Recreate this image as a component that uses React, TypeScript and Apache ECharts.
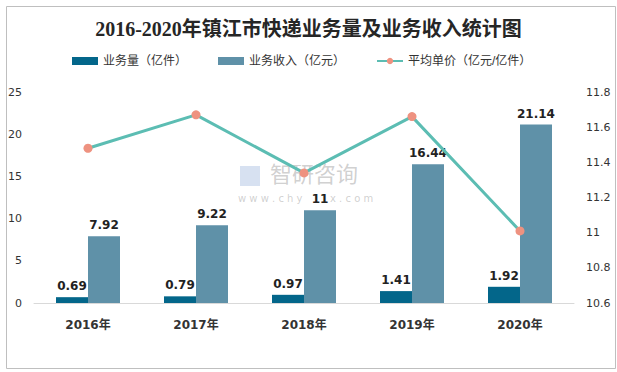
import React, { useEffect, useRef } from "react";
import * as echarts from "echarts";

const categories = ["2016年", "2017年", "2018年", "2019年", "2020年"];
const volume = [0.69, 0.79, 0.97, 1.41, 1.92];
const revenue = [7.92, 9.22, 11, 16.44, 21.14];
const unitPrice = [11.48, 11.67, 11.34, 11.66, 11.01];

const leftTicks = { min: 0, max: 25, interval: 5 };
const rightTicks = { min: 10.6, max: 11.8, interval: 0.2 };

const FONT = "'DejaVu Sans', 'Noto Sans CJK SC', sans-serif";
const CJK = "'Liberation Sans', 'Noto Sans CJK SC', sans-serif";
const WM = "rgba(150,150,150,0.45)";

export default function App() {
  const ref = useRef<HTMLDivElement>(null);
  useEffect(() => {
    if (!ref.current) return;
    const chart = echarts.init(ref.current, null, { renderer: "svg" });
    chart.setOption({
      animation: false,
      backgroundColor: "#ffffff",
      title: {
        text: "2016-2020年镇江市快递业务量及业务收入统计图",
        left: "center",
        top: 14,
        textStyle: {
          fontFamily: "'Liberation Serif', 'Noto Sans CJK SC', serif",
          fontSize: 20,
          fontWeight: "bold",
          color: "#262626",
        },
      },
      legend: {
        top: 50,
        left: 67,
        itemGap: 31,
        itemWidth: 26,
        itemHeight: 8,
        textStyle: { fontFamily: CJK, fontSize: 12, color: "#333333" },
        data: [
          { name: "业务量（亿件）", icon: "rect" },
          { name: "业务收入（亿元）", icon: "rect" },
          { name: "平均单价（亿元/亿件）" },
        ],
      },
      graphic: [
        {
          type: "rect",
          left: 4,
          top: 4,
          shape: { width: 609, height: 362 },
          style: { fill: "none", stroke: "#bfbfbf", lineWidth: 1 },
          silent: true,
        },
        {
          type: "text",
          left: 270,
          top: 161,
          style: {
            text: "智研咨询",
            fontFamily: "'Noto Sans CJK SC', sans-serif",
            fontSize: 22,
            fill: WM,
          },
          silent: true,
          z: 0,
        },
        {
          type: "text",
          left: 238,
          top: 193,
          style: { text: "w w w . c h y", fontFamily: FONT, fontSize: 10, fill: WM },
          silent: true,
          z: 0,
        },
        {
          type: "text",
          left: 330,
          top: 193,
          style: { text: "x . c o m", fontFamily: FONT, fontSize: 10, fill: WM },
          silent: true,
          z: 0,
        },
        {
          type: "rect",
          left: 240,
          top: 166,
          shape: { width: 20, height: 20 },
          style: { fill: "rgba(140,170,215,0.35)" },
          silent: true,
          z: 0,
        },
      ],
      grid: { left: 34, right: 43, top: 92, bottom: 69, containLabel: false },
      xAxis: {
        type: "category",
        data: categories,
        axisLine: { lineStyle: { color: "#d9d9d9" } },
        axisTick: { show: false },
        axisLabel: {
          fontFamily: FONT,
          fontSize: 12,
          fontWeight: "bold",
          color: "#333333",
          margin: 16,
        },
      },
      yAxis: [
        {
          type: "value",
          min: leftTicks.min,
          max: leftTicks.max,
          interval: leftTicks.interval,
          splitLine: { show: false },
          axisLine: { show: false },
          axisTick: { show: false },
          axisLabel: { fontFamily: FONT, fontSize: 11, color: "#333333", margin: 12 },
        },
        {
          type: "value",
          min: rightTicks.min,
          max: rightTicks.max,
          interval: rightTicks.interval,
          splitLine: { show: false },
          axisLine: { show: false },
          axisTick: { show: false },
          axisLabel: {
            fontFamily: FONT,
            fontSize: 11,
            color: "#333333",
            margin: 12,
            formatter: (v: number) => String(Math.round(v * 10) / 10),
          },
        },
      ],
      series: [
        {
          name: "业务量（亿件）",
          type: "bar",
          data: volume,
          barWidth: 32,
          barGap: "0%",
          z: 2,
          itemStyle: { color: "#03668a" },
          label: {
            show: true,
            position: "top",
            distance: 5,
            fontFamily: FONT,
            fontSize: 12,
            fontWeight: "bold",
            color: "#222222",
          },
        },
        {
          name: "业务收入（亿元）",
          type: "bar",
          data: revenue,
          barWidth: 32,
          barGap: "0%",
          z: 2,
          itemStyle: { color: "#5f91a8" },
          label: {
            show: true,
            position: "top",
            distance: 5,
            fontFamily: FONT,
            fontSize: 12,
            fontWeight: "bold",
            color: "#222222",
          },
        },
        {
          name: "平均单价（亿元/亿件）",
          type: "line",
          yAxisIndex: 1,
          data: unitPrice,
          symbol: "circle",
          symbolSize: 9,
          lineStyle: { color: "#5cbdb3", width: 3 },
          itemStyle: { color: "#ee9280" },
          z: 5,
        },
      ],
    });
    return () => chart.dispose();
  }, []);
  return (
    <div
      ref={ref}
      style={{ position: "fixed", left: 0, top: 0, width: 617, height: 372 }}
    />
  );
}
